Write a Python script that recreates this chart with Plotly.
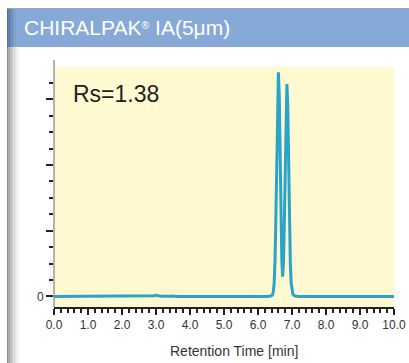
import plotly.graph_objects as go

# ---------------- data ----------------
time_min = [0.0, 2.9, 2.95, 3.0, 3.05, 3.1, 3.2, 3.3, 3.4, 3.5, 3.6, 6.3, 6.35, 6.40,
            6.425, 6.45, 6.475, 6.50, 6.525, 6.55, 6.575, 6.60, 6.625, 6.65, 6.675,
            6.70, 6.725, 6.75, 6.775, 6.80, 6.825, 6.85, 6.875, 6.90, 6.925, 6.95,
            6.975, 7.00, 7.025, 7.05, 7.10, 7.20, 10.0]
signal = [0.0, 0.0, 0.01, 0.02, 0.012, 0.006, 0.004, 0.01, 0.005, 0.008, 0.0, 0.0, 0.004, 0.012,
          0.025, 0.07, 0.20, 0.53, 1.17, 2.12, 3.05, 3.41, 3.06, 2.15, 1.20,
          0.56, 0.30, 0.52, 1.12, 2.02, 2.89, 3.23, 2.90, 2.03, 1.14, 0.53,
          0.21, 0.08, 0.035, 0.018, 0.006, 0.0, 0.0]

x_tick_vals = [0, 1, 2, 3, 4, 5, 6, 7, 8, 9, 10]
x_tick_text = ["0.0", "1.0", "2.0", "3.0", "4.0", "5.0", "6.0", "7.0", "8.0", "9.0", "10.0"]
y_tick_vals = [0, 1, 2, 3]
y_tick_text = ["0", "", "", ""]

title_text = "CHIRALPAK<span style='font-size:15px'><sup>®</sup></span> IA(5μm)"
rs_text = "Rs=1.38"
x_title = "Retention Time [min]"

# ---------------- geometry helpers ----------------
W, H = 409, 363
L, R, T, B = 54, 394, 67, 307  # plot area in pixels


def px(xp):
    return (xp - L) / (R - L)


def py(yp):
    return (B - yp) / (B - T)


FONT = "Liberation Sans, Arial, sans-serif"

fig = go.Figure()
fig.add_trace(go.Scatter(
    x=time_min, y=signal, mode="lines",
    line=dict(color="#2aa4c9", width=3),
    hoverinfo="skip", showlegend=False,
))

shapes = []
# header band
shapes.append(dict(type="rect", xref="paper", yref="paper", x0=px(7), x1=px(409), y0=py(47), y1=py(8),
                   fillcolor="#87a9d7", line=dict(width=0), layer="below"))
# header left dark gradient
hdr_cols = ["#56719a", "#5f7ca6", "#6886b1", "#7190bd", "#7a9ac8", "#81a2d0"]
for i, c in enumerate(hdr_cols):
    shapes.append(dict(type="rect", xref="paper", yref="paper", x0=px(7 + i * 1.5), x1=px(8.5 + i * 1.5),
                       y0=py(47), y1=py(8), fillcolor=c, line=dict(width=0), layer="below"))
# header top border
shapes.append(dict(type="line", xref="paper", yref="paper", x0=px(7), x1=px(409), y0=py(8.5), y1=py(8.5),
                   line=dict(color="#9aa6b6", width=1)))
# left gray gradient bar
bar_cols = ["#8c8c8c", "#a2a2a2", "#b6b6b6", "#c8c8c8", "#d8d8d8", "#e6e6e6", "#f1f1f1", "#f9f9f9"]
for i, c in enumerate(bar_cols):
    shapes.append(dict(type="rect", xref="paper", yref="paper", x0=px(7 + i * 1.6), x1=px(8.6 + i * 1.6),
                       y0=py(363), y1=py(47), fillcolor=c, line=dict(width=0), layer="below"))
# y axis line extending above plot
shapes.append(dict(type="line", xref="paper", yref="paper", x0=px(54), x1=px(54), y0=py(307), y1=py(60),
                   line=dict(color="#808080", width=1.2)))

fig.update_layout(
    width=W, height=H, autosize=False,
    margin=dict(l=L, r=W - R, t=T, b=H - B, pad=0),
    paper_bgcolor="white", plot_bgcolor="#fef9d0",
    shapes=shapes,
    font=dict(family=FONT, color="#333333"),
    xaxis=dict(
        range=[0, 10], tickmode="array", tickvals=x_tick_vals, ticktext=x_tick_text,
        automargin=False,
        ticks="outside", ticklen=6, tickwidth=2, tickcolor="#222222",
        showline=True, linecolor="#222222", linewidth=2, showgrid=False, zeroline=False,
        tickfont=dict(size=12, color="#333333", family=FONT),
        minor=dict(dtick=0.2, ticks="outside", ticklen=4, tickwidth=2, tickcolor="#222222", showgrid=False),
    ),
    yaxis=dict(
        range=[-0.16, 3.49], tickmode="array", tickvals=y_tick_vals, ticktext=y_tick_text,
        automargin=False,
        ticks="outside", ticklen=7, tickwidth=2, tickcolor="#222222",
        showline=False, showgrid=False, zeroline=False,
        tickfont=dict(size=12, color="#333333", family=FONT),
        minor=dict(dtick=0.25, tick0=0, ticks="outside", ticklen=4, tickwidth=2, tickcolor="#222222", showgrid=False),
    ),
    annotations=[
        dict(text=title_text, xref="paper", yref="paper", x=px(22), y=py(28), xanchor="left", yanchor="middle",
             showarrow=False, font=dict(size=21, color="white", family=FONT)),
        dict(text=rs_text, xref="paper", yref="paper", x=px(71), y=py(94), xanchor="left", yanchor="middle",
             showarrow=False, font=dict(size=23, color="#222222", family=FONT)),
        dict(text=x_title, xref="paper", yref="paper", x=px(234), y=py(351), xanchor="center", yanchor="middle",
             showarrow=False, font=dict(size=14, color="#333333", family=FONT)),
    ],
)

fig.write_html("out.html")
